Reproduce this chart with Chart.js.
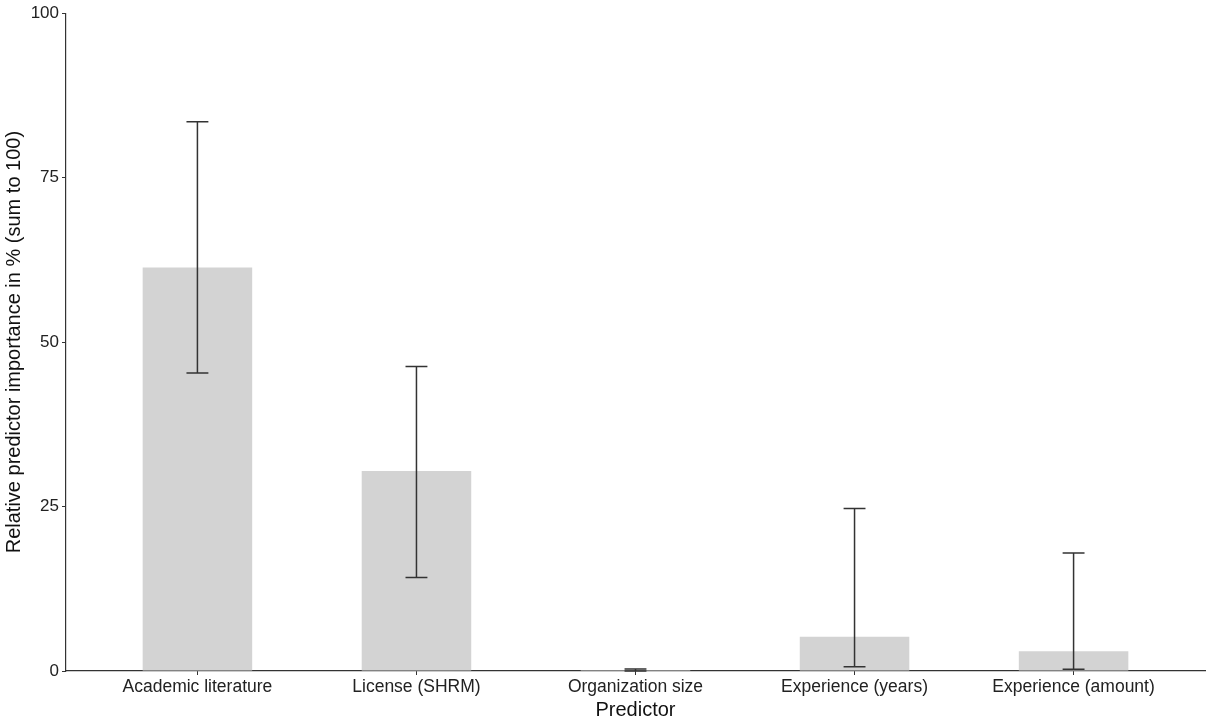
<!DOCTYPE html>
<html>
<head>
<meta charset="utf-8">
<script src="https://cdn.jsdelivr.net/npm/chart.js@4"></script>
<style>
  html, body { margin: 0; padding: 0; background: #fff; }
  #wrap { width: 1207px; height: 724px; }
</style>
</head>
<body>
<div id="wrap"><canvas id="chart"></canvas></div>
<script>
// predictor importance with bootstrap intervals
const predictors = ['Academic literature', 'License (SHRM)', 'Organization size', 'Experience (years)', 'Experience (amount)'];
const importance = [61.35, 30.4, 0.15, 5.2, 3.0];
const lowerCI = [45.3, 14.2, 0.0, 0.65, 0.25];
const upperCI = [83.5, 46.3, 0.3, 24.7, 17.95];
const yTicks = [0, 25, 50, 75, 100];

const axisColor = '#333333';
const fontFam = '"Liberation Sans", Arial, sans-serif';

const errorBars = {
  id: 'errorBars',
  afterDatasetsDraw(chart) {
    const { ctx, scales: { x, y } } = chart;
    const capHalf = (x.getPixelForValue(1.05) - x.getPixelForValue(1));
    ctx.save();
    ctx.strokeStyle = axisColor;
    ctx.lineWidth = 1.5;
    predictors.forEach((p, i) => {
      const px = x.getPixelForValue(i + 1);
      const lo = y.getPixelForValue(lowerCI[i]);
      const hi = y.getPixelForValue(upperCI[i]);
      ctx.beginPath();
      ctx.moveTo(px, lo); ctx.lineTo(px, hi);
      ctx.moveTo(px - capHalf, lo); ctx.lineTo(px + capHalf, lo);
      ctx.moveTo(px - capHalf, hi); ctx.lineTo(px + capHalf, hi);
      ctx.stroke();
    });
    ctx.restore();
  }
};

new Chart(document.getElementById('chart'), {
  type: 'bar',
  data: {
    datasets: [{
      data: importance.map((v, i) => ({ x: i + 1, y: v })),
      backgroundColor: '#d3d3d3',
      borderWidth: 0,
      barPercentage: 0.5,
      categoryPercentage: 1
    }]
  },
  options: {
    responsive: true, maintainAspectRatio: false, animation: false,
    layout: { padding: { top: 12, right: 2, left: 0, bottom: 0 } },
    plugins: { legend: { display: false }, tooltip: { enabled: false } },
    scales: {
      x: {
        type: 'linear', min: 0.4, max: 5.6, offset: false,
        afterBuildTicks: (s) => { s.ticks = predictors.map((p, i) => ({ value: i + 1 })); },
        afterFit: (s) => { s.height = 53; },
        ticks: {
          callback: (v) => predictors[v - 1] || '',
          color: '#222', font: { family: fontFam, size: 17.5 }, padding: 2, autoSkip: false, maxRotation: 0
        },
        grid: { drawOnChartArea: false, offset: false, tickLength: 4, color: axisColor },
        border: { color: axisColor, width: 1.2 },
        title: { display: true, text: 'Predictor', color: '#111', font: { family: fontFam, size: 20 }, padding: { top: 0, bottom: 2 } }
      },
      y: {
        min: 0, max: 100,
        afterBuildTicks: (s) => { s.ticks = yTicks.map(v => ({ value: v })); },
        afterFit: (s) => { s.width = 66; },
        ticks: { color: '#222', font: { family: fontFam, size: 17 }, padding: 3 },
        grid: { drawOnChartArea: false, tickLength: 4, color: axisColor },
        border: { color: axisColor, width: 1.2 },
        title: { display: true, text: 'Relative predictor importance in % (sum to 100)', color: '#111', font: { family: fontFam, size: 20 }, padding: { top: 2, bottom: 0 } }
      }
    }
  },
  plugins: [errorBars]
});
</script>
</body>
</html>
